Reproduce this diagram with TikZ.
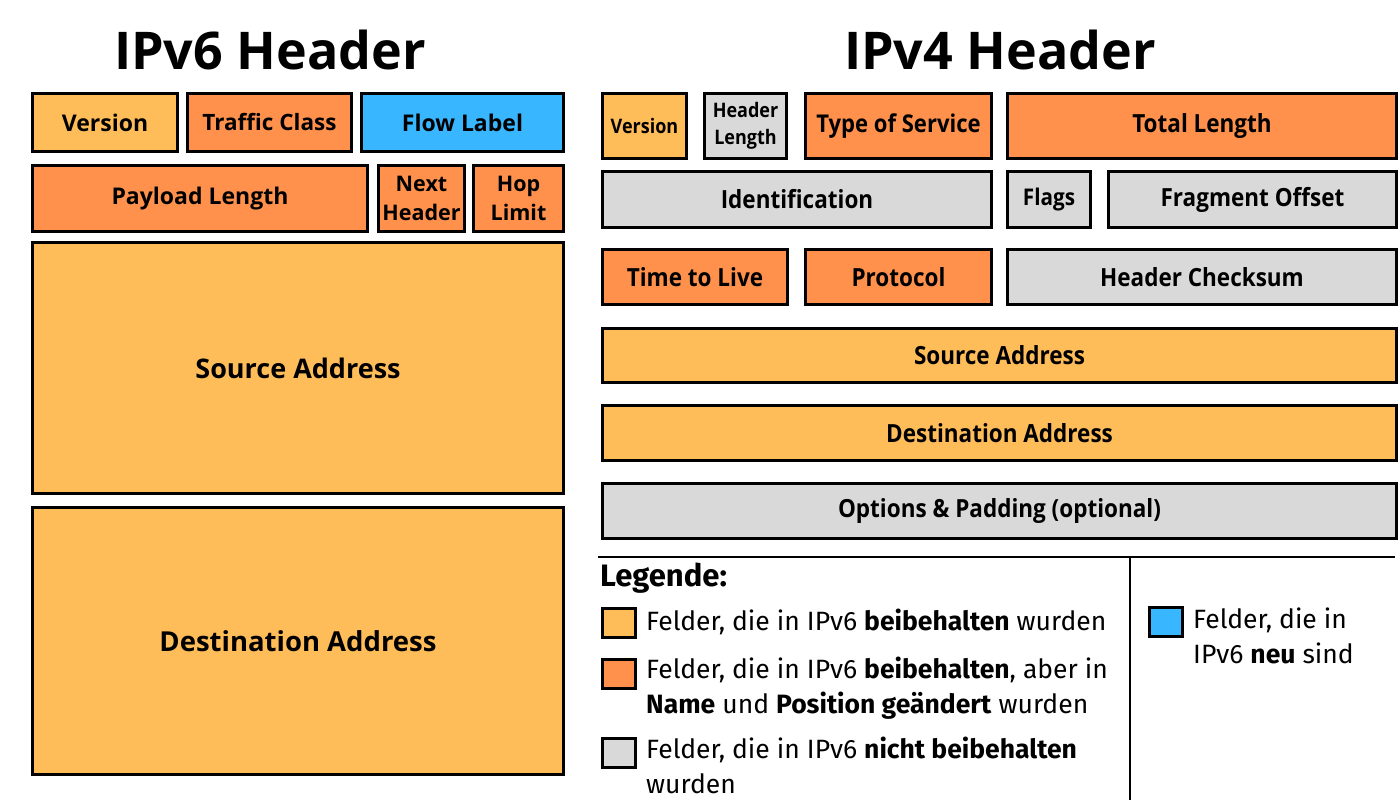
\documentclass[tikz,border=0pt]{standalone}
\usepackage{fontspec}
\setmainfont{Open Sans}
\newfontfamily\legfont{Fira Sans}
\usepackage{graphicx}
\definecolor{lo}{HTML}{FFBD59}
\definecolor{do}{HTML}{FF914D}
\definecolor{bl}{HTML}{38B6FF}
\definecolor{gr}{HTML}{D9D9D9}
\newcommand\cond[1]{\scalebox{0.9}[1]{#1}}
\newcommand\fieldbox[8]{%
  \pgfmathsetmacro\fw{#4-#2-3}\pgfmathsetmacro\fh{#5-#3-3}\pgfmathsetmacro\fb{#7*1.35}%
  \node[fld, fill=#6, font=\bfseries\fontsize{#7}{\fb}\selectfont, minimum width=\fw pt, minimum height=\fh pt] (#1) at ({(#2+#4)/2},{-(#3+#5)/2}) {#8};}
\tikzset{
  fld/.style={draw=black, line width=3pt, inner sep=0pt, align=center, text=black},
  swatch/.style={draw=black, line width=3pt, minimum width=33pt, minimum height=29pt, inner sep=0pt},
  legtext/.style={anchor=west, align=left, inner sep=0pt, font=\legfont\fontsize{26.5}{35}\selectfont},
  title/.style={font=\bfseries\fontsize{52}{60}\selectfont},
}
\begin{document}
\begin{tikzpicture}[x=1pt,y=1pt]
\useasboundingbox[fill=white] (0,0) rectangle (1400,-800);
% titles
\node[title] (t6) at (270,-50) {IPv6 Header};
\node[title] (t4) at (1000,-50) {IPv4 Header};
% IPv6
\fieldbox{v6ver}{31}{92}{179}{153}{lo}{23}{Version}
\fieldbox{v6tc}{186}{92}{353}{153}{do}{22.5}{Traffic Class}
\fieldbox{v6fl}{360}{92}{565}{153}{bl}{23}{Flow Label}
\fieldbox{v6pl}{31}{164}{369}{233}{do}{23}{Payload Length}
\fieldbox{v6nh}{377}{164}{466}{233}{do}{21.5}{Next\\Header}
\fieldbox{v6hl}{472}{164}{565}{233}{do}{21.5}{Hop\\Limit}
\fieldbox{v6src}{31}{241}{565}{495}{lo}{27}{Source Address}
\fieldbox{v6dst}{31}{506}{565}{776}{lo}{27.5}{Destination Address}
% IPv4
\fieldbox{v4ver}{601}{92}{688}{160}{lo}{20}{\cond{Version}}
\fieldbox{v4hl}{703}{92}{788}{160}{gr}{20}{\cond{Header}\\\cond{Length}}
\fieldbox{v4tos}{804}{92}{993}{160}{do}{24.5}{\cond{Type of Service}}
\fieldbox{v4tl}{1006}{92}{1398}{160}{do}{25}{\cond{Total Length}}
\fieldbox{v4id}{601}{170}{993}{229}{gr}{25}{\cond{Identification}}
\fieldbox{v4fl}{1006}{170}{1092}{229}{gr}{23}{\cond{Flags}}
\fieldbox{v4fo}{1107}{170}{1398}{229}{gr}{25}{\cond{Fragment Offset}}
\fieldbox{v4ttl}{601}{248}{789}{306}{do}{25}{\cond{Time to Live}}
\fieldbox{v4pr}{804}{248}{993}{306}{do}{25}{\cond{Protocol}}
\fieldbox{v4hc}{1006}{248}{1398}{306}{gr}{25}{\cond{Header Checksum}}
\fieldbox{v4src}{601}{327}{1398}{384}{lo}{25}{\cond{Source Address}}
\fieldbox{v4dst}{601}{404}{1398}{462}{lo}{25}{\cond{Destination Address}}
\fieldbox{v4opt}{601}{482}{1398}{540}{gr}{25}{\cond{Options \& Padding (optional)}}
% legend frame
\coordinate (lgA) at (598,-557);
\coordinate (lgB) at (1395,-557);
\coordinate (lgC) at (1130,-557);
\coordinate (lgD) at (1130,-800);
\draw[line width=2pt] (lgA) -- (lgB);
\draw[line width=1.5pt] (lgC) -- (lgD);
\node[anchor=west, inner sep=0pt, font=\legfont\bfseries\fontsize{31}{34}\selectfont] (leg) at (600,-578) {Legende:};
\node[swatch, fill=lo] (s1) at (619,-623) {};
\node[swatch, fill=do] (s2) at (619,-674) {};
\node[swatch, fill=gr] (s3) at (619,-753) {};
\node[swatch, fill=bl] (s4) at (1166,-622) {};
\node[legtext] (l1) at (646,-622) {Felder, die in IPv6 \textbf{beibehalten} wurden};
\node[legtext] (l2) at (646,-688.5) {Felder, die in IPv6 \textbf{beibehalten}, aber in\\\textbf{Name} und \textbf{Position geändert} wurden};
\node[legtext] (l3) at (646,-765) {Felder, die in IPv6 \textbf{nicht beibehalten}\\wurden};
\node[legtext] (l4) at (1193,-635.5) {Felder, die in\\IPv6 \textbf{neu} sind};
\end{tikzpicture}
\end{document}
